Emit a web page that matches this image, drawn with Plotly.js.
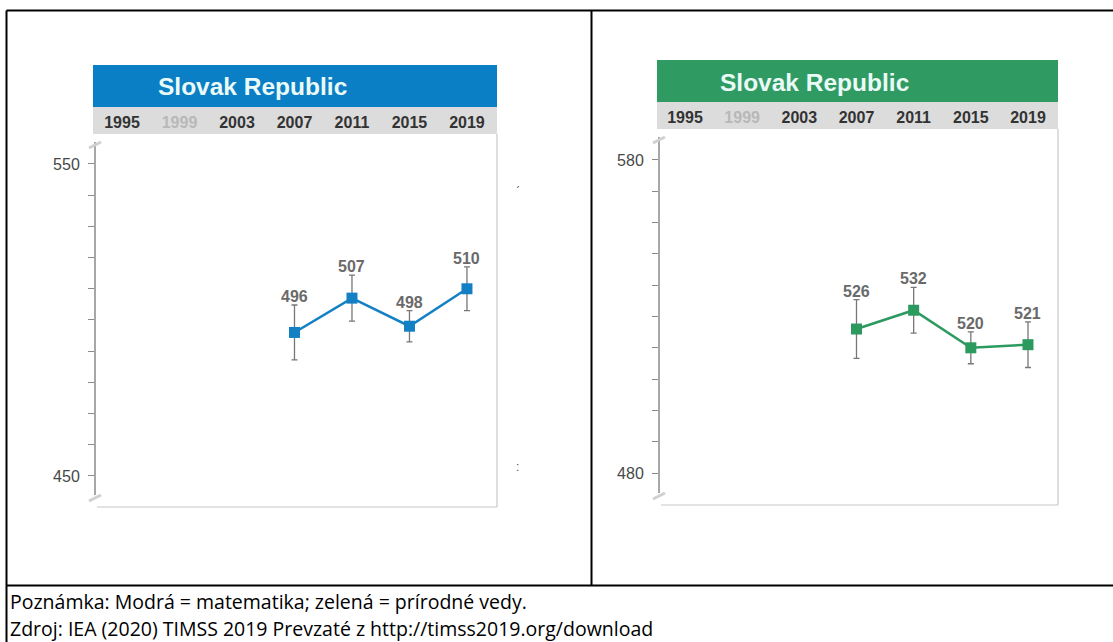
<!DOCTYPE html>
<html>
<head>
<meta charset="utf-8">
<script src="https://cdn.plot.ly/plotly-3.0.1.min.js"></script>
<style>html,body{margin:0;padding:0;background:#fff;}#chart{width:1113px;height:642px;}</style>
</head>
<body>
<div id="chart"></div>
<script>
// ---- data ----
const years = [1995, 1999, 2003, 2007, 2011, 2015, 2019];
const yearLabels = ["1995", "1999", "2003", "2007", "2011", "2015", "2019"];
const dataYears = [2007, 2011, 2015, 2019];
const mathScores = [496, 507, 498, 510];
const mathCI = [8.8, 7.4, 5.0, 7.0];
const sciScores = [526, 532, 520, 521];
const sciCI = [9.4, 7.3, 5.1, 7.3];
const mathTicks = [450, 460, 470, 480, 490, 500, 510, 520, 530, 540, 550];
const mathTickLabels = ["450", "", "", "", "", "", "", "", "", "", "550"];
const sciTicks = [480, 490, 500, 510, 520, 530, 540, 550, 560, 570, 580];
const sciTickLabels = ["480", "", "", "", "", "", "", "", "", "", "580"];
const panelTitle = "Slovak Republic";
const note1 = "Poznámka: Modrá = matematika; zelená = prírodné vedy.";
const note2 = "Zdroj: IEA (2020) TIMSS 2019 Prevzaté z http://timss2019.org/download";

// ---- layout helpers ----
const W = 1113, H = 642;
const px = x => x / W;
const py = y => 1 - y / H;
const BLUE = "#1380c4", BLUE_HDR = "#0a7fc6";
const GREEN = "#2c9a5f", GREEN_HDR = "#2f9b63";
const yearText = yearLabels.map(t => t === "1999"
  ? '<b><span style="color:#b8b8b8">' + t + '</span></b>'
  : '<b>' + t + '</b>');

function xAxis(dom, rng) {
  return {
    domain: dom, range: rng, side: "top", tickvals: years, ticktext: yearText,
    showgrid: false, zeroline: false, showline: false, ticks: "outside", ticklen: 2,
    ticklabelstandoff: -3, tickcolor: "rgba(0,0,0,0)", fixedrange: true,
    tickfont: {family: "Liberation Sans, Arial, sans-serif", size: 16, color: "#333"}
  };
}
function yAxis(dom, rng, tv, tt, anchor) {
  return {
    domain: dom, range: rng, anchor: anchor, tickvals: tv, ticktext: tt,
    ticks: "outside", ticklen: 6, tickcolor: "#8a8a8a", tickwidth: 1,
    showgrid: false, zeroline: false, showline: false, ticklabelstandoff: 5,
    tickfont: {family: "Liberation Sans, Arial, sans-serif", size: 16, color: "#484848"}
  };
}
function yOverlay(over, rng, tv, anchor) {
  return {
    overlaying: over, range: rng, anchor: anchor, tickvals: tv, showticklabels: false,
    ticks: "inside", ticklen: 6, tickcolor: "#8a8a8a", tickwidth: 1,
    showgrid: false, zeroline: false, showline: false
  };
}

// pixel geometry of each panel
const L = {x0: 95, x1: 497, top: 134, bot: 507, hdrTop: 65, hdrBot: 107, xr: [1993.12, 2021.09], yr: [440.06, 559.6], tx: 252, ty: 87};
const R = {x0: 659, x1: 1058, top: 129, bot: 505, hdrTop: 60, hdrBot: 102, xr: [1993.18, 2021.1], yr: [469.78, 589.9], tx: 814, ty: 82};

const traces = [
  {x: dataYears, y: mathScores, xaxis: "x", yaxis: "y", type: "scatter", mode: "lines+markers",
   line: {color: BLUE, width: 2.5}, marker: {symbol: "square", size: 11, color: BLUE},
   error_y: {type: "data", array: mathCI, visible: true, color: "#777", thickness: 1.3, width: 3},
   hoverinfo: "skip"},
  {x: dataYears, y: sciScores, xaxis: "x2", yaxis: "y2", type: "scatter", mode: "lines+markers",
   line: {color: GREEN, width: 2.5}, marker: {symbol: "square", size: 11, color: GREEN},
   error_y: {type: "data", array: sciCI, visible: true, color: "#777", thickness: 1.3, width: 3},
   hoverinfo: "skip"}
];

const annotations = [];
const lblFont = {family: "Liberation Sans, Arial", size: 16, color: "#6a6a6a"};
dataYears.forEach((yr, i) => {
  annotations.push({x: yr, y: mathScores[i] + mathCI[i], xref: "x", yref: "y", text: "<b>" + mathScores[i] + "</b>",
    showarrow: false, yanchor: "bottom", yshift: -2, font: lblFont});
  annotations.push({x: yr, y: sciScores[i] + sciCI[i], xref: "x2", yref: "y2", text: "<b>" + sciScores[i] + "</b>",
    showarrow: false, yanchor: "bottom", yshift: -2, font: lblFont});
});
[L, R].forEach(P => {
  annotations.push({x: px(P.tx), y: py(P.ty), xref: "paper", yref: "paper", text: "<b>" + panelTitle + "</b>",
    showarrow: false, xanchor: "center", yanchor: "middle",
    font: {family: "Liberation Sans, Arial, sans-serif", size: 24.5, color: "#eafaf6"}});
});
annotations.push({x: px(8), y: py(601), xref: "paper", yref: "paper", text: note1, showarrow: false,
  xanchor: "left", yanchor: "middle", font: {family: "Open Sans, sans-serif", size: 19.5, color: "#000"}});
annotations.push({x: px(8), y: py(628), xref: "paper", yref: "paper", text: note2, showarrow: false,
  xanchor: "left", yanchor: "middle", font: {family: "Open Sans, sans-serif", size: 19.5, color: "#000"}});
annotations.push({x: px(517), y: py(476), xref: "paper", yref: "paper", text: ":", showarrow: false,
  font: {family: "Liberation Sans", size: 12, color: "#555"}});
annotations.push({x: px(517), y: py(174), xref: "paper", yref: "paper", text: "\u02CF", showarrow: false,
  font: {family: "DejaVu Sans", size: 10, color: "#333"}});

const shapes = [];
function rect(x0, y0, x1, y1, fill, layer) {
  shapes.push({type: "rect", xref: "paper", yref: "paper", x0: px(x0), x1: px(x1), y0: py(y1), y1: py(y0),
    fillcolor: fill, line: {width: 0}, layer: layer || "below"});
}
function line(x0, y0, x1, y1, color, w, layer) {
  shapes.push({type: "line", xref: "paper", yref: "paper", x0: px(x0), x1: px(x1), y0: py(y0), y1: py(y1),
    line: {color: color, width: w}, layer: layer || "above"});
}
[[L, BLUE_HDR], [R, GREEN_HDR]].forEach(([P, c]) => {
  rect(P.x0 - 2, P.hdrTop, P.x1, P.hdrBot, c);
  rect(P.x0 - 2, P.hdrBot, P.x1, P.top, "#dcdcdc");
  // frame
  line(P.x1, P.top, P.x1, P.bot, "#c8c8c8", 1.2);
  line(P.x0 + 2, P.bot, P.x1, P.bot, "#c8c8c8", 1.2);
  // axis line
  line(P.x0, P.top + 8, P.x0, P.bot - 12, "#8a8a8a", 1.5);
  // axis break marks
  line(P.x0 - 6, P.top + 14, P.x0 + 6, P.top + 8, "#d0d0d0", 3);
  line(P.x0 - 6, P.bot - 6, P.x0 + 6, P.bot - 12, "#d0d0d0", 3);
});
// table borders
line(6.5, 10.5, 1113, 10.5, "#000", 2);
line(6.5, 10.5, 6.5, 642, "#000", 2);
line(591.5, 10.5, 591.5, 585.5, "#000", 2);
line(6.5, 585.5, 1113, 585.5, "#000", 2);

const layout = {
  width: W, height: H, margin: {l: 0, r: 0, t: 0, b: 0},
  paper_bgcolor: "#fff", plot_bgcolor: "rgba(0,0,0,0)", showlegend: false,
  xaxis: Object.assign(xAxis([px(L.x0), px(L.x1)], L.xr), {anchor: "y"}),
  yaxis: yAxis([py(L.bot), py(L.top)], L.yr, mathTicks, mathTickLabels, "x"),
  xaxis2: Object.assign(xAxis([px(R.x0), px(R.x1)], R.xr), {anchor: "y2"}),
  yaxis2: yAxis([py(R.bot), py(R.top)], R.yr, sciTicks, sciTickLabels, "x2"),
  yaxis3: yOverlay("y", L.yr, mathTicks, "x"),
  yaxis4: yOverlay("y2", R.yr, sciTicks, "x2"),
  annotations: annotations, shapes: shapes
};
Plotly.newPlot("chart", traces, layout, {staticPlot: true, displayModeBar: false});
</script>
</body>
</html>
